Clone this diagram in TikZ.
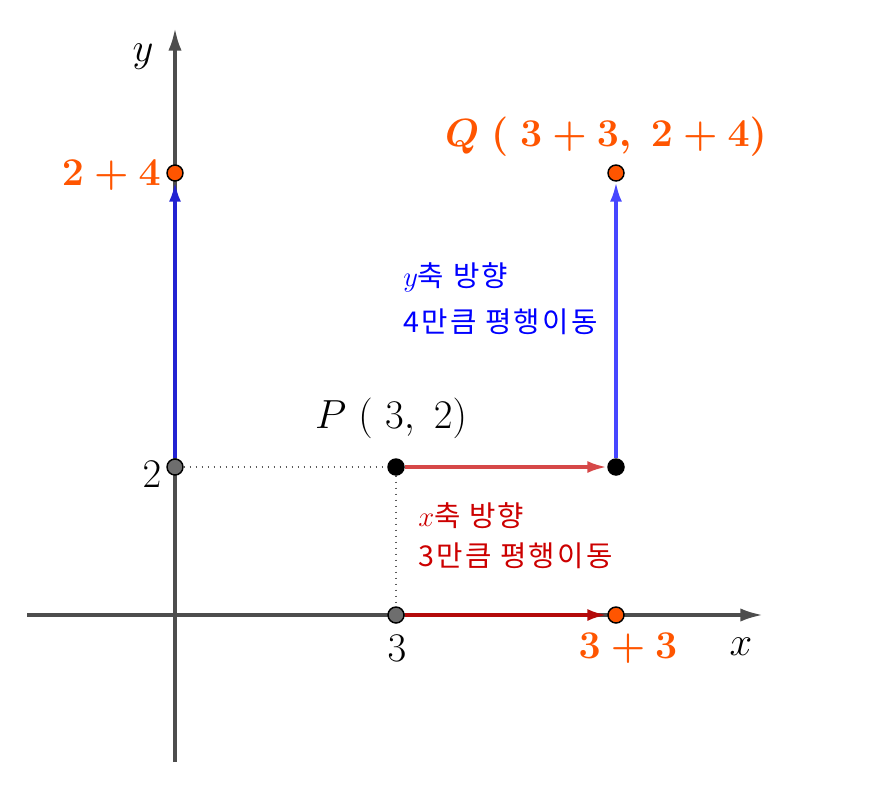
\documentclass[tikz,border=0pt]{standalone}
\usepackage{fix-cm}
\usepackage{fontspec}
\newfontfamily\kr[LetterSpace=8]{Noto Sans CJK KR}
\usetikzlibrary{arrows.meta}
\definecolor{axisgray}{RGB}{77,77,77}
\definecolor{qorange}{RGB}{255,85,0}
\definecolor{redlight}{RGB}{214,72,72}
\definecolor{reddark}{RGB}{180,10,10}
\definecolor{bluedark}{RGB}{34,34,210}
\definecolor{bluelight}{RGB}{70,70,255}
\definecolor{txtred}{RGB}{204,0,0}
\definecolor{txtblue}{RGB}{0,0,255}
\definecolor{ptgray}{RGB}{110,110,110}
\definecolor{dotgray}{RGB}{90,90,90}
\pgfdeclarelayer{bg}
\pgfsetlayers{bg,main}
\begin{document}
\begin{tikzpicture}[x=0.75pt,y=-0.75pt,
  pt/.style={circle,draw=black,line width=1.1pt,minimum size=12pt,inner sep=0pt},
  axis/.style={draw=axisgray,line width=2.6pt,-{Latex[length=17pt,width=10pt]}},
  dotline/.style={draw=dotgray,line width=1.4pt,dash pattern=on 1.3pt off 3.2pt},
  arr/.style={line width=2.8pt,-{Latex[length=15pt,width=9pt]}},
  lbl/.style={font=\fontsize{30.5}{36}\selectfont,inner sep=0pt},
  blbl/.style={font=\fontsize{29.5}{36}\selectfont\boldmath,text=qorange,inner sep=0pt},
  krtxt/.style={font=\kr\fontsize{21.5}{26}\selectfont,inner sep=0pt,anchor=west}]
\useasboundingbox (0,0) rectangle (876,789);
% points
\node[pt,fill=ptgray] (Y2) at (175,467) {};
\node[pt,fill=ptgray] (X3) at (396,615) {};
\node[pt,fill=black] (P) at (396,467) {};
\node[pt,fill=black] (P1) at (616,467) {};
\node[pt,fill=qorange] (Q) at (616,173) {};
\node[pt,fill=qorange] (X6) at (616,615) {};
\node[pt,fill=qorange] (Y6) at (175,173) {};
\coordinate (xs) at (27,615);
\coordinate (xe) at (763,615);
\coordinate (ys) at (175,762);
\coordinate (ye) at (175,28);
\begin{pgfonlayer}{bg}
\draw[axis] (xs) -- (xe);
\draw[axis] (ys) -- (ye);
\draw[dotline] (Y2) -- (P);
\draw[dotline] (P) -- (X3);
\draw[arr,redlight] (P) -- (P1);
\draw[arr,reddark] (X3) -- (X6);
\draw[arr,bluedark] (Y2) -- (Y6);
\draw[arr,bluelight] (P1) -- (Q);
\end{pgfonlayer}
% labels
\node[lbl] (ylab) at (143,57) {$y$};
\node[lbl] (xlab) at (741,647) {$x$};
\node[lbl] (l2) at (152,474) {$2$};
\node[lbl] (l3) at (397,648) {$3$};
\node[lbl] (Plab) at (391,418) {$P\ (\ 3,\ 2)$};
\node[blbl] (Qlab) at (606,137) {$Q\ (\ 3+3,\ 2+4)$};
\node[blbl,anchor=east] (l24) at (161,175) {$2+4$};
\node[blbl] (l33) at (628,648) {$3+3$};
\node[krtxt,text=txtblue] (k1) at (403,277) {$y$축 방향};
\node[krtxt,text=txtblue] (k2) at (403,322) {4만큼 평행이동};
\node[krtxt,text=txtred] (k3) at (418,516) {$x$축 방향};
\node[krtxt,text=txtred] (k4) at (418,556) {3만큼 평행이동};
\end{tikzpicture}
\end{document}
